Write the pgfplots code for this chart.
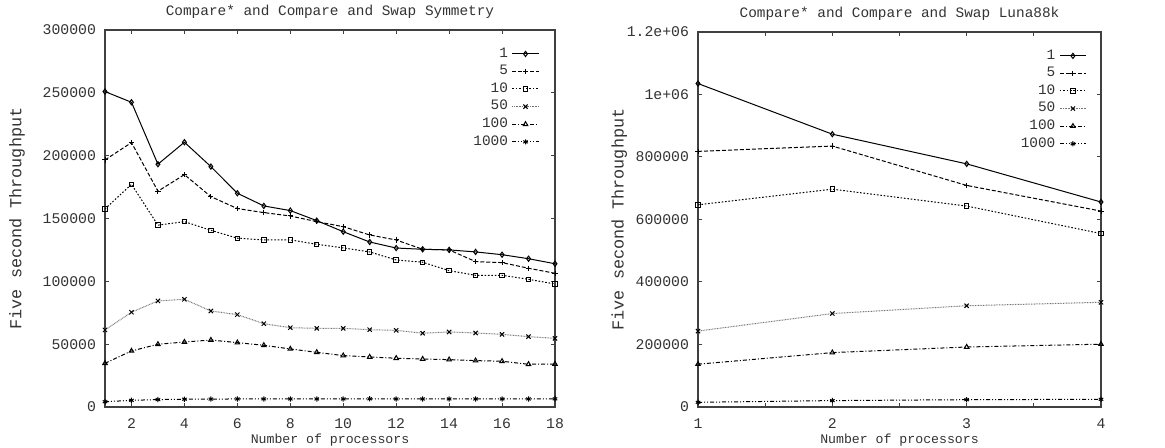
\documentclass[border=0pt]{standalone}
\usepackage{fontspec}
\setmainfont{Liberation Mono}
\usepackage{pgfplots}
\pgfplotsset{compat=1.18}
\definecolor{axgray}{gray}{0.25}
\definecolor{txtgray}{gray}{0.2}
\pgfplotsset{
  myax/.style={
    scale only axis,
    axis line style={axgray, line width=0.8pt},
    major tick style={axgray, line width=0.5pt},
    minor tick style={axgray, line width=0.5pt},
    major tick length=2.2pt, minor tick length=2.2pt,
    tick align=inside,
    /pgf/number format/assume math mode=true,
    tick label style={font=\fontsize{7.4}{8}\selectfont, text=txtgray},
    yticklabel style={xshift=-1pt},
    xticklabel style={yshift=-2.5pt},
    scaled y ticks=false,
    yticklabel={\pgfmathprintnumber[fixed,1000 sep={}]{\tick}},
    every axis title shift=0pt,
    title style={font=\fontsize{7.2}{8}\selectfont, text=txtgray, at={(0.5,1)}, anchor=center, yshift=9pt},
    xlabel style={font=\fontsize{6.6}{7}\selectfont, text=txtgray, yshift=4.5pt},
    ylabel style={font=\fontsize{8.4}{9}\selectfont, text=txtgray},
    legend style={draw=none, fill=none, font=\fontsize{7.2}{8}\selectfont, text=txtgray,
      at={(0.97,0.97)}, anchor=north east, row sep=-1.5pt, inner sep=1pt},
    legend cell align=right,
    legend plot pos=right,
    legend image code/.code={\draw[mark repeat=2,mark phase=2,#1] plot coordinates {(0cm,0cm) (0.23cm,0cm) (0.46cm,0cm)};},
    every axis plot/.append style={line width=0.5pt, mark size=1.3pt},
  },
  s1/.style={black, solid, mark=diamond, mark options={solid, fill=white}},
  s5/.style={black, dash pattern=on 2pt off 1pt, mark=+, mark options={solid}},
  s10/.style={black, dash pattern=on 0.8pt off 0.9pt, mark=square, mark options={solid, fill=white}, mark size=1.1pt},
  s50/.style={black!55, dash pattern=on 0.4pt off 0.4pt, mark=x, mark options={solid, black}, mark size=1.5pt},
  s100/.style={black, dash pattern=on 2pt off 1pt on 0.5pt off 1pt, mark=triangle, mark options={solid, fill=white}},
  s1000/.style={black, dash pattern=on 2pt off 1pt on 0.5pt off 1pt on 0.5pt off 1pt, mark=asterisk, mark options={solid}},
}
\begin{document}
\begin{tikzpicture}
\path[use as bounding box] (-52.5pt,-20.5pt) rectangle (530pt,203.5pt);
\begin{axis}[myax, at={(0pt,0pt)}, anchor=origin,
  width=225pt, height=188.5pt,
  xmin=1, xmax=18, ymin=0, ymax=300000,
  xtick={2,4,...,18}, ytick={0,50000,...,300000},
  title={Compare* and Compare and Swap Symmetry},
  xlabel={Number of processors}, ylabel={Five second Throughput},
  ylabel style={yshift=2pt},
]
\addplot[s1] coordinates {(1,251000)(2,242500)(3,193200)(4,210700)(5,191300)(6,170100)(7,160000)(8,156300)(9,148300)(10,139500)(11,131300)(12,126500)(13,125500)(14,125000)(15,123400)(16,121200)(17,118000)(18,114000)};
\addlegendentry{1}
\addplot[s5] coordinates {(1,196600)(2,210400)(3,171700)(4,184900)(5,167400)(6,157900)(7,154700)(8,152000)(9,147500)(10,143500)(11,136900)(12,132900)(13,125500)(14,125000)(15,115700)(16,114900)(17,110400)(18,106400)};
\addlegendentry{5}
\addplot[s10] coordinates {(1,157600)(2,177200)(3,144700)(4,147500)(5,140600)(6,134300)(7,133000)(8,133000)(9,129500)(10,126600)(11,123400)(12,117000)(13,115200)(14,108500)(15,104800)(16,104800)(17,101600)(18,97900)};
\addlegendentry{10}
\addplot[s50] coordinates {(1,61300)(2,75400)(3,84400)(4,85700)(5,76400)(6,73500)(7,66300)(8,63100)(9,62600)(10,62600)(11,61500)(12,61000)(13,58700)(14,59700)(15,58900)(16,57800)(17,56000)(18,54600)};
\addlegendentry{50}
\addplot[s100] coordinates {(1,34800)(2,44600)(3,49900)(4,51700)(5,53300)(6,51200)(7,49100)(8,46200)(9,43500)(10,40900)(11,39800)(12,38800)(13,38200)(14,37700)(15,36900)(16,36400)(17,34000)(18,34200)};
\addlegendentry{100}
\addplot[s1000] coordinates {(1,4200)(2,5300)(3,5900)(4,6200)(5,6300)(6,6400)(7,6400)(8,6400)(9,6400)(10,6400)(11,6500)(12,6400)(13,6400)(14,6400)(15,6400)(16,6400)(17,6400)(18,6500)};
\addlegendentry{1000}
\end{axis}
\begin{axis}[myax, at={(296.5pt,0pt)}, anchor=origin,
  width=201.5pt, height=187.5pt,
  xmin=1, xmax=4, ymin=0, ymax=1200000,
  xtick={1,2,3,4}, minor xtick={1.5,2.5,3.5},
  ytick={0,200000,400000,600000,800000,1000000,1200000},
  yticklabels={0,200000,400000,600000,800000,1e+06,1.2e+06},
  title={Compare* and Compare and Swap Luna88k},
  xlabel={Number of processors}, ylabel={Five second Throughput},
  ylabel style={yshift=-7pt},
]
\addplot[s1] coordinates {(1,1035000)(2,873000)(3,778000)(4,656000)};
\addlegendentry{1}
\addplot[s5] coordinates {(1,818000)(2,835000)(3,709000)(4,627000)};
\addlegendentry{5}
\addplot[s10] coordinates {(1,647000)(2,697000)(3,643000)(4,555000)};
\addlegendentry{10}
\addplot[s50] coordinates {(1,243000)(2,299000)(3,324000)(4,335000)};
\addlegendentry{50}
\addplot[s100] coordinates {(1,137000)(2,174000)(3,192000)(4,201000)};
\addlegendentry{100}
\addplot[s1000] coordinates {(1,15000)(2,20500)(3,23400)(4,24600)};
\addlegendentry{1000}
\end{axis}
\end{tikzpicture}
\end{document}
